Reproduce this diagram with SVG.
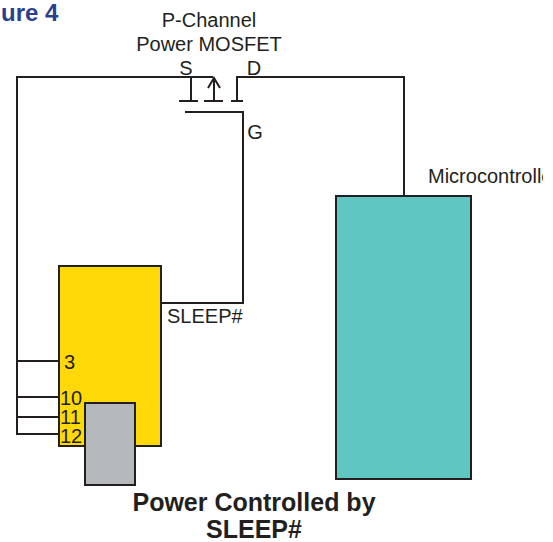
<svg xmlns="http://www.w3.org/2000/svg" width="553" height="542" viewBox="0 0 553 542">
<style>
text{font-family:"Liberation Sans",Arial,sans-serif;font-size:20px;fill:#231f20}
.w{fill:none;stroke:#231f20;stroke-width:2}
.b{stroke:#231f20;stroke-width:2}
.t{font-weight:bold;font-size:25px;text-anchor:middle}
.m{text-anchor:middle}
</style>
<defs><clipPath id="c"><rect x="0" y="0" width="543" height="542"/></clipPath></defs>
<rect width="553" height="542" fill="#fff"/>
<text x="1" y="21" style="font-weight:bold;font-size:24px;fill:#2b3f8f">ure 4</text>
<g id="connectors">
<path class="w" d="M213 77H17V434H59M17 361H59M17 397H59M17 417H59"/>
<path class="w" d="M191 77V101M179 101H198M214 101V79M204 101H223M208 88L214 78L220 88M237 101V77H404V196M231 101H243M185 112H243V303H161"/>
</g>
<g id="mosfet-label">
<text class="m" x="209" y="27">P-Channel</text>
<text class="m" x="209" y="51">Power MOSFET</text>
<text class="m" x="186" y="75">S</text>
<text class="m" x="254" y="75">D</text>
<text class="m" x="255" y="139">G</text>
</g>
<g id="sleep-controller">
<rect class="b" x="59" y="266" width="102" height="180" fill="#ffd808"/>
<text x="64" y="369">3</text>
<text x="60" y="405">10</text>
<text x="60" y="424">11</text>
<text x="60" y="443">12</text>
<text x="167" y="323">SLEEP#</text>
</g>
<g id="gray-module">
<rect class="b" x="85" y="403" width="50" height="82" fill="#b5b9bb"/>
</g>
<g id="microcontroller">
<rect class="b" x="336" y="196" width="135" height="283" fill="#5fc6c2"/>
<text x="428" y="183" clip-path="url(#c)">Microcontroller</text>
</g>
<g id="caption">
<text class="t" x="254" y="511">Power Controlled by</text>
<text class="t" x="254" y="538">SLEEP#</text>
</g>
</svg>
